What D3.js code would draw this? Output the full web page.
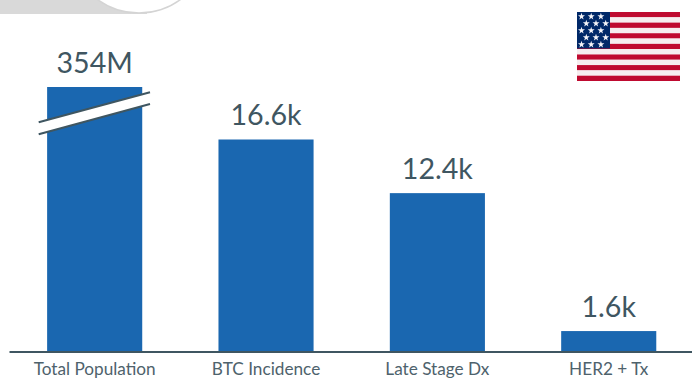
<!DOCTYPE html>
<html><head><meta charset="utf-8">
<script src="https://cdn.jsdelivr.net/npm/d3@7"></script>
<style>html,body{margin:0;padding:0;background:#fff;overflow:hidden}svg{display:block}text{font-family:Lato,sans-serif}</style>
</head><body><svg id="c" width="692" height="379"></svg>
<script>
const categories = ["Total Population","BTC Incidence","Late Stage Dx","HER2 + Tx"];
const values = [354000000,16600,12400,1600];
const valueLabels = ["354M","16.6k","12.4k","1.6k"];
const axisBreakDomain = [0,16600,354000000];
const flagStripes = d3.range(13);
const flagStarRows = [0,1,2,3,4];
const flagStarCols = [0,1,2];

const ink="#3f5661", blue="#1a67b0";
const svg=d3.select("#c");

// top decoration
svg.append("rect").attr("x",0).attr("y",0).attr("width",147).attr("height",14).attr("fill","#d9d9d9");
svg.append("circle").attr("cx",139).attr("cy",-57).attr("r",70).attr("fill","#fff").attr("stroke","#d4d4d4").attr("stroke-width",1.5);

const x=d3.scaleBand().domain(categories).range([9,694.4]).paddingInner(0.445).paddingOuter(0.2225);
const y=d3.scaleLinear().domain(axisBreakDomain).range([351.5,139.5,87]);

svg.selectAll("rect.bar").data(categories).join("rect").attr("class","bar")
 .attr("x",d=>x(d)).attr("width",x.bandwidth())
 .attr("y",(d,i)=>y(values[i])).attr("height",(d,i)=>y(0)-y(values[i])).attr("fill",blue);

// axis
const ax=svg.append("g").attr("transform","translate(0,351.5)").call(d3.axisBottom(x).tickSize(0).tickPadding(11.5));
ax.select(".domain").attr("stroke",ink).attr("stroke-width",2);
ax.selectAll("text").attr("font-size",17.2).attr("fill","#4e626c").style("font-family","Lato,sans-serif");

// value labels
svg.selectAll("text.v").data(categories).join("text").attr("class","v")
 .attr("x",d=>x(d)+x.bandwidth()/2).attr("y",(d,i)=>y(values[i])-14.5)
 .attr("text-anchor","middle").attr("font-size",28.6).attr("fill",ink)
 .text((d,i)=>valueLabels[i]);

// axis-break mark on first bar
const bx=d3.scaleLinear().domain([0,1]).range([38.7,150]);
const line=d3.line().x(d=>bx(d[0])).y(d=>d[1]);
svg.append("path").attr("d","M"+bx(0)+",122.3L"+bx(1)+",92.3L"+bx(1)+",104L"+bx(0)+",134.3Z").attr("fill","#fff");
[[122.3,92.3],[134.3,104]].forEach(p=>{
  svg.append("path").attr("d",line([[0,p[0]],[1,p[1]]])).attr("stroke",ink).attr("stroke-width",2).attr("fill","none");
});

// flag
const fx=577,fy=12,fw=103,fh=69;
const g=svg.append("g").attr("transform",`translate(${fx},${fy})`);
const sh=d3.scaleBand().domain(flagStripes).range([0,fh]);
g.selectAll("rect.s").data(flagStripes).join("rect").attr("class","s")
 .attr("x",0).attr("width",fw).attr("y",d=>sh(d)).attr("height",sh.bandwidth())
 .attr("fill",d=>d%2?"#f6eef0":"#bf0a30");
g.append("rect").attr("width",33).attr("height",36.5).attr("fill","#002868");
const star=d3.symbol().type(d3.symbolStar).size(15);
flagStarRows.forEach(r=>flagStarCols.forEach(c=>{
  const off=r%2?4.8:0;
  g.append("path").attr("d",star()).attr("fill","#f4f4f8")
   .attr("transform",`translate(${4.5+c*9.7+off},${4.5+r*7})`);
}));
</script></body></html>
